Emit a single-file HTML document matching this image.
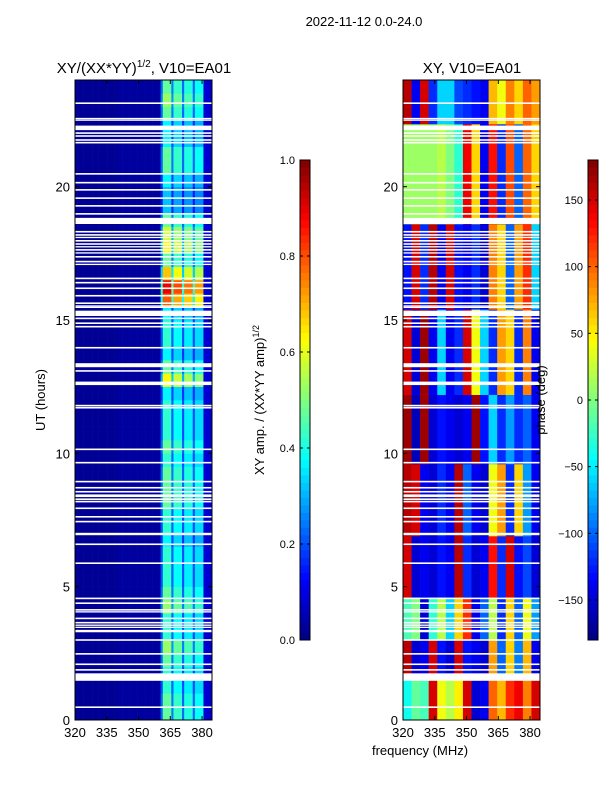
<!DOCTYPE html>
<html><head><meta charset="utf-8">
<style>
body{margin:0;background:#fff;}
svg{display:block;font-family:"Liberation Sans","DejaVu Sans",sans-serif;}
</style></head>
<body>
<svg id="fig" width="600" height="800" viewBox="0 0 600 800" xmlns="http://www.w3.org/2000/svg">
<text x="364" y="26" font-size="13" text-anchor="middle">2022-11-12 0.0-24.0</text>
<text x="144" y="73" font-size="15" text-anchor="middle">XY/(XX*YY)<tspan font-size="10" dy="-6">1/2</tspan><tspan dy="6">, V10=EA01</tspan></text>
<text x="472" y="73" font-size="15" text-anchor="middle">XY, V10=EA01</text>
<g id="left"></g>
<g id="right"></g>
<g id="axes"></g>
<text x="45" y="400" font-size="13" text-anchor="middle" transform="rotate(-90 45 400)">UT (hours)</text>
<text x="420" y="755" font-size="13" text-anchor="middle">frequency (MHz)</text>
<text x="264" y="400" font-size="13" text-anchor="middle" transform="rotate(-90 264 400)">XY amp. / (XX*YY amp)<tspan font-size="9" dy="-5">1/2</tspan></text>
<text x="545" y="400" font-size="13" text-anchor="middle" transform="rotate(-90 545 400)">phase (deg)</text>
</svg>
<script>
// ---- data ----
const freqMin = 320, freqMax = 384.7;
const hourMin = 0, hourMax = 24;
const xTicks = [320, 335, 350, 365, 380];
const yTicks = [0, 5, 10, 15, 20];
const ampTicks = [0.0, 0.2, 0.4, 0.6, 0.8, 1.0];
const phaseTicks = [-150, -100, -50, 0, 50, 100, 150];
// amplitude channel profile (64 channels)
const ampProfile = [0.02,0.02,0.02,0.02,0.02,0.02,0.02,0.02,0.02,0.02,0.02,0.02,0.02,0.02,0.02,0.02,0.02,0.02,0.02,0.02,
 0.03,0.03,0.03,0.03,0.03,0.03,0.03,0.03,0.03,0.03,0.03,0.03,0.03,0.03,0.03,0.03,0.03,0.03,0.03,0.03,
 0.5,1.05,1.05,1.05,1.05,0.55,0.95,0.95,0.95,0.95,0.5,0.9,0.9,0.9,0.9,0.5,0.85,0.85,0.85,0.85,0.08,0.08,0.08,0.08];
// stripe intensity per half hour (48 rows)
const ampRows = [0.45,0.45,0.4,0.4,0.45,0.5,0.4,0.4,0.5,0.45,0.4,0.4,0.4,0.35,0.4,0.4,0.45,0.45,0.45,0.4,
 0.45,0.4,0.4,0.4,0.35,0.6,0.45,0.35,0.4,0.4,0.35,0.75,0.85,0.65,0.45,0.6,0.55,0.45,0.3,0.3,
 0.35,0.45,0.45,0.35,0.35,0.45,0.5,0.45];
// phase blocks: start hour, end hour
const phaseBlockStart = [0, 1.5, 3.0, 4.6, 6.9, 9.6, 12.2, 15.4, 18.6, 22.35];
const phaseBlockEnd   = [1.5, 3.0, 4.6, 6.9, 9.6, 12.2, 15.4, 18.6, 22.35, 24];
const phaseBlocks = [
 [-40,-10,-20,150,40,20,50,150,-150,-140,100,70,120,140,90,150],
 [160,-150,-140,150,-130,-150,150,-130,-140,-150,80,-100,60,-90,70,-140],
 [-20,0,-150,-30,20,-60,60,120,-140,-100,20,-120,60,-100,40,-80],
 [150,-150,-140,-150,-130,-140,160,-120,-150,-140,130,-120,150,-130,-110,-150],
 [160,150,-140,-150,-120,-140,160,-100,-140,-150,40,80,-120,60,-80,-140],
 [170,-160,170,-150,-130,-140,-150,-140,170,-130,-60,-120,-80,-120,-100,-140],
 [150,-150,170,-140,-60,-140,-120,150,40,-60,-120,80,60,-120,90,-140],
 [-130,150,-120,160,-140,150,-130,-140,-120,-150,90,60,-100,80,120,-60],
 [10,10,10,10,20,0,-30,140,60,-140,130,-120,110,-100,100,60],
 [160,-140,150,-120,-60,-60,-110,-120,-130,-140,70,40,90,60,100,80]
];
// flagged (blank) time ranges: start hour, height (hours)
const gapStart = [23.10,22.53,22.47,22.12,21.98,21.87,21.72,21.62,20.45,20.12,19.85,19.54,19.25,18.95,18.60,18.28,18.16,18.07,17.94,17.82,17.72,17.60,17.49,17.34,17.16,17.06,16.53,16.37,16.16,15.88,15.60,15.50,15.45,15.15,15.03,14.85,14.72,13.93,13.23,13.06,12.56,11.76,11.68,10.12,9.62,8.91,8.68,8.53,8.36,8.25,8.16,7.91,7.59,7.41,6.93,6.56,5.85,4.53,4.35,4.10,4.03,3.78,3.62,3.53,3.45,3.29,2.97,2.45,2.06,1.85,1.47,0.45];
const gapHeight = [0.06,0.05,0.05,0.17,0.06,0.06,0.06,0.06,0.06,0.06,0.06,0.06,0.06,0.06,0.23,0.06,0.06,0.05,0.06,0.06,0.05,0.06,0.05,0.06,0.06,0.05,0.06,0.06,0.06,0.06,0.06,0.05,0.05,0.2,0.06,0.06,0.06,0.06,0.15,0.06,0.13,0.06,0.06,0.06,0.06,0.06,0.06,0.06,0.1,0.06,0.06,0.06,0.06,0.06,0.09,0.06,0.06,0.06,0.06,0.06,0.05,0.06,0.06,0.05,0.05,0.09,0.06,0.06,0.06,0.06,0.28,0.06];

// ---- helpers ----
const NS = "http://www.w3.org/2000/svg";
function jet(v){v=Math.max(0,Math.min(1,v));const c=t=>Math.round(255*Math.max(0,Math.min(1,1.5-Math.abs(4*v-t))));return `rgb(${c(3)},${c(2)},${c(1)})`;}
function mk(tag, attrs, parent){const e=document.createElementNS(NS,tag);for(const k in attrs)e.setAttribute(k,attrs[k]);parent.appendChild(e);return e;}
const Y0=720, Y1=80;
const yScale = h => Y0 - (h-hourMin)/(hourMax-hourMin)*(Y0-Y1);
function xScaleFor(x0,x1){return f => x0 + (f-freqMin)/(freqMax-freqMin)*(x1-x0);}
const panels = [{id:'left',x0:75,x1:212},{id:'right',x0:403,x1:540}];

// left heatmap
(function(){
 const g=document.getElementById('left'); const xs=xScaleFor(75,212);
 const cw=(freqMax-freqMin)/ampProfile.length;
 ampRows.forEach((ri,r)=>{
  const ya=yScale(r*0.5+0.5), yb=yScale(r*0.5);
  ampProfile.forEach((p,k)=>{
   const v = p<0.2 ? p : p*ri;
   const xa=xs(freqMin+k*cw), xb=xs(freqMin+(k+1)*cw);
   const el=mk('rect',{x:xa.toFixed(2),y:ya.toFixed(2),width:(xb-xa+0.3).toFixed(2),height:(yb-ya+0.3).toFixed(2),fill:jet(v)},g);
   
   
  });
 });
})();
// right heatmap
(function(){
 const g=document.getElementById('right'); const xs=xScaleFor(403,540);
 phaseBlocks.forEach((prof,b)=>{
  const ya=yScale(phaseBlockEnd[b]), yb=yScale(phaseBlockStart[b]);
  const cw=(freqMax-freqMin)/prof.length;
  prof.forEach((ph,k)=>{
   const xa=xs(freqMin+k*cw), xb=xs(freqMin+(k+1)*cw);
   const el=mk('rect',{x:xa.toFixed(2),y:ya.toFixed(2),width:(xb-xa+0.3).toFixed(2),height:(yb-ya+0.3).toFixed(2),fill:jet((ph+180)/360)},g);
   
   
  });
 });
})();
// gaps, frames, ticks
(function(){
 const ax=document.getElementById('axes');
 panels.forEach(p=>{
  const xs=xScaleFor(p.x0,p.x1);
  gapStart.forEach((s,i)=>{
   const ya=yScale(s+gapHeight[i]), yb=yScale(s);
   const el=mk('rect',{x:p.x0,y:ya.toFixed(2),width:p.x1-p.x0,height:Math.max(1.2,yb-ya).toFixed(2),fill:'#fff'},ax);
   
   
  });
  const fr=mk('rect',{x:p.x0,y:Y1,width:p.x1-p.x0,height:Y0-Y1,fill:'none',stroke:'#000','stroke-width':1},ax);
  
  
  xTicks.forEach(t=>{
   const x=xs(t);
   mk('line',{x1:x,x2:x,y1:Y0,y2:Y0-4,stroke:'#000'},ax);
   mk('line',{x1:x,x2:x,y1:Y1,y2:Y1+4,stroke:'#000'},ax);
   const tx=mk('text',{x:x,y:Y0+17,'font-size':13,'text-anchor':'middle'},ax);
   tx.textContent=t;
   
   
  });
  yTicks.forEach(t=>{
   const y=yScale(t);
   mk('line',{x1:p.x0,x2:p.x0+4,y1:y,y2:y,stroke:'#000'},ax);
   mk('line',{x1:p.x1,x2:p.x1-4,y1:y,y2:y,stroke:'#000'},ax);
   const tx=mk('text',{x:p.x0-5,y:y+5,'font-size':13,'text-anchor':'end'},ax);
   tx.textContent=t;
   
   
  });
 });
 // colorbars
 const bars=[{x:300,min:0,max:1,ticks:ampTicks,fmt:v=>v.toFixed(1),name:'amp-colorbar'},
             {x:588,min:-180,max:180,ticks:phaseTicks,fmt:v=>v<0?'\u2212'+(-v):String(v),name:'phase-colorbar'}];
 const CB0=640, CB1=160, N=64;
 bars.forEach(b=>{
  for(let i=0;i<N;i++){
   const ya=CB0-(i+1)*(CB0-CB1)/N;
   const el=mk('rect',{x:b.x,y:ya.toFixed(2),width:10,height:((CB0-CB1)/N+0.4).toFixed(2),fill:jet((i+0.5)/N)},ax);
   
   
  }
  const fr=mk('rect',{x:b.x,y:CB1,width:10,height:CB0-CB1,fill:'none',stroke:'#000'},ax);
  
  
  b.ticks.forEach(t=>{
   const y=CB0-(t-b.min)/(b.max-b.min)*(CB0-CB1);
   mk('line',{x1:b.x,x2:b.x+3,y1:y,y2:y,stroke:'#000'},ax);
   mk('line',{x1:b.x+10,x2:b.x+7,y1:y,y2:y,stroke:'#000'},ax);
   const tx=mk('text',{x:b.x-5,y:y+4,'font-size':11,'text-anchor':'end'},ax);
   tx.textContent=b.fmt(t);
   
   
  });
 });
})();
</script>
</body></html>
